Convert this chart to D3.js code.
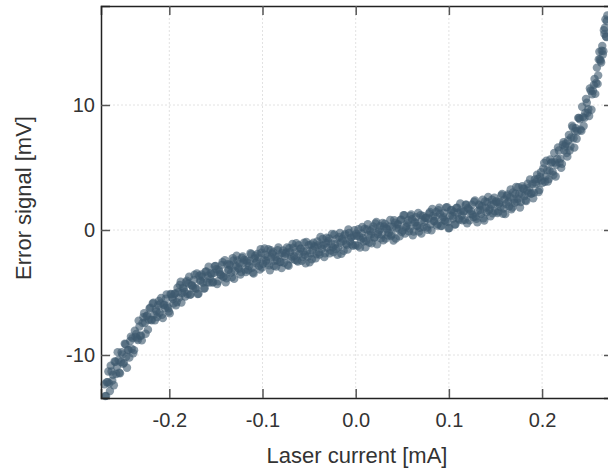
<!DOCTYPE html>
<html>
<head>
<meta charset="utf-8">
<script src="https://cdn.jsdelivr.net/npm/d3@7"></script>
<style>
  html, body { margin: 0; padding: 0; background: #fff; }
  svg { display: block; font-family: "Liberation Sans", Arial, sans-serif; }
</style>
</head>
<body>
<svg id="chart" width="608" height="472"></svg>
<script>
// Two acquisitions of the error signal (mV) against laser current (mA)
const currentA = [
  -0.2695,-0.2678,-0.2662,-0.2645,-0.2629,-0.2612,
  -0.2595,-0.2578,-0.2562,-0.2545,-0.2529,-0.2512,
  -0.2495,-0.2478,-0.2462,-0.2445,-0.2429,-0.2412,
  -0.2395,-0.2378,-0.2362,-0.2345,-0.2329,-0.2312,
  -0.2295,-0.2278,-0.2262,-0.2245,-0.2229,-0.2212,
  -0.2195,-0.2178,-0.2162,-0.2145,-0.2129,-0.2112,
  -0.2095,-0.2078,-0.2062,-0.2045,-0.2029,-0.2012,
  -0.1995,-0.1978,-0.1962,-0.1945,-0.1929,-0.1912,
  -0.1895,-0.1878,-0.1862,-0.1845,-0.1829,-0.1812,
  -0.1795,-0.1778,-0.1762,-0.1745,-0.1729,-0.1712,
  -0.1695,-0.1678,-0.1662,-0.1645,-0.1629,-0.1612,
  -0.1595,-0.1578,-0.1562,-0.1545,-0.1529,-0.1512,
  -0.1495,-0.1478,-0.1462,-0.1445,-0.1429,-0.1412,
  -0.1395,-0.1378,-0.1362,-0.1345,-0.1329,-0.1312,
  -0.1295,-0.1278,-0.1262,-0.1245,-0.1229,-0.1212,
  -0.1195,-0.1178,-0.1162,-0.1145,-0.1129,-0.1112,
  -0.1095,-0.1078,-0.1062,-0.1045,-0.1029,-0.1012,
  -0.0995,-0.0978,-0.0962,-0.0945,-0.0929,-0.0912,
  -0.0895,-0.0878,-0.0862,-0.0845,-0.0829,-0.0812,
  -0.0795,-0.0778,-0.0762,-0.0745,-0.0729,-0.0712,
  -0.0695,-0.0678,-0.0662,-0.0645,-0.0629,-0.0612,
  -0.0595,-0.0578,-0.0562,-0.0545,-0.0529,-0.0512,
  -0.0495,-0.0478,-0.0462,-0.0445,-0.0429,-0.0412,
  -0.0395,-0.0378,-0.0362,-0.0345,-0.0329,-0.0312,
  -0.0295,-0.0278,-0.0262,-0.0245,-0.0229,-0.0212,
  -0.0195,-0.0178,-0.0162,-0.0145,-0.0129,-0.0112,
  -0.0095,-0.0078,-0.0062,-0.0045,-0.0029,-0.0012,
  0.0005,0.0022,0.0038,0.0055,0.0071,0.0088,
  0.0105,0.0122,0.0138,0.0155,0.0171,0.0188,
  0.0205,0.0222,0.0238,0.0255,0.0271,0.0288,
  0.0305,0.0322,0.0338,0.0355,0.0371,0.0388,
  0.0405,0.0422,0.0438,0.0455,0.0471,0.0488,
  0.0505,0.0522,0.0538,0.0555,0.0571,0.0588,
  0.0605,0.0622,0.0638,0.0655,0.0671,0.0688,
  0.0705,0.0722,0.0738,0.0755,0.0771,0.0788,
  0.0805,0.0822,0.0838,0.0855,0.0871,0.0888,
  0.0905,0.0922,0.0938,0.0955,0.0971,0.0988,
  0.1005,0.1022,0.1038,0.1055,0.1071,0.1088,
  0.1105,0.1122,0.1138,0.1155,0.1171,0.1188,
  0.1205,0.1222,0.1238,0.1255,0.1271,0.1288,
  0.1305,0.1322,0.1338,0.1355,0.1371,0.1388,
  0.1405,0.1422,0.1438,0.1455,0.1471,0.1488,
  0.1505,0.1522,0.1538,0.1555,0.1571,0.1588,
  0.1605,0.1622,0.1638,0.1655,0.1671,0.1688,
  0.1705,0.1722,0.1738,0.1755,0.1771,0.1788,
  0.1805,0.1822,0.1838,0.1855,0.1871,0.1888,
  0.1905,0.1922,0.1938,0.1955,0.1971,0.1988,
  0.2005,0.2022,0.2038,0.2055,0.2071,0.2088,
  0.2105,0.2122,0.2138,0.2155,0.2171,0.2188,
  0.2205,0.2222,0.2238,0.2255,0.2271,0.2288,
  0.2305,0.2322,0.2338,0.2355,0.2371,0.2388,
  0.2405,0.2422,0.2438,0.2455,0.2471,0.2488,
  0.2505,0.2522,0.2538,0.2555,0.2571,0.2588,
  0.2602,0.2615,0.2628,0.2640,0.2652,0.2663,0.2674,0.2685,0.2695
];

const signalA = [
  -12.34,-13.27,-12.17,-12.27,-10.85,-12.05,
  -12.42,-10.54,-10.94,-10.40,-11.47,-9.78,
  -10.71,-9.10,-10.14,-9.59,-10.21,-8.53,
  -8.65,-9.61,-8.55,-8.67,-7.25,-8.45,
  -8.83,-6.98,-7.42,-6.90,-7.97,-6.27,
  -7.17,-5.87,-6.77,-6.37,-6.97,-5.67,
  -5.88,-6.79,-6.01,-6.23,-5.15,-6.26,
  -6.67,-5.15,-5.53,-5.12,-6.02,-4.62,
  -5.43,-4.14,-5.06,-4.68,-5.32,-4.05,
  -4.27,-5.19,-4.41,-4.63,-3.57,-4.70,
  -5.13,-3.66,-4.10,-3.73,-4.68,-3.34,
  -4.19,-2.93,-3.89,-3.53,-4.17,-2.90,
  -3.14,-4.10,-3.36,-3.61,-2.57,-3.73,
  -4.19,-2.73,-3.19,-2.84,-3.79,-2.44,
  -3.29,-2.06,-3.02,-2.69,-3.36,-2.12,
  -2.39,-3.36,-2.62,-2.89,-1.86,-3.02,
  -3.49,-2.06,-2.52,-2.19,-3.16,-1.82,
  -2.70,-1.48,-2.46,-2.15,-2.83,-1.61,
  -1.89,-2.87,-2.14,-2.42,-1.39,-2.57,
  -3.05,-1.63,-2.11,-1.80,-2.78,-1.46,
  -2.34,-1.12,-2.09,-1.77,-2.44,-1.22,
  -1.49,-2.46,-1.72,-1.99,-0.96,-2.12,
  -2.59,-1.16,-1.62,-1.29,-2.26,-0.92,
  -1.79,-0.56,-1.52,-1.19,-1.86,-0.62,
  -0.89,-1.86,-1.12,-1.39,-0.36,-1.52,
  -1.99,-0.56,-1.02,-0.69,-1.66,-0.32,
  -1.19,0.04,-0.92,-0.59,-1.26,-0.02,
  -0.29,-1.26,-0.52,-0.79,0.24,-0.92,
  -1.39,0.04,-0.42,-0.09,-1.06,0.28,
  -0.59,0.64,-0.33,0.00,-0.67,0.56,
  0.29,-0.68,0.04,-0.23,0.80,-0.37,
  -0.84,0.59,0.13,0.46,-0.51,0.83,
  -0.04,1.19,0.23,0.56,-0.11,1.13,
  0.86,-0.12,0.61,0.33,1.36,0.18,
  -0.29,1.13,0.66,0.98,0.01,1.33,
  0.46,1.68,0.71,1.03,0.36,1.58,
  1.31,0.33,1.06,0.78,1.81,0.63,
  0.16,1.58,1.11,1.43,0.46,1.78,
  0.91,2.13,1.16,1.48,0.81,2.03,
  1.76,0.78,1.51,1.23,2.26,1.08,
  0.61,2.04,1.58,1.91,0.94,2.28,
  1.41,2.64,1.68,2.01,1.34,2.58,
  2.31,1.36,2.10,1.84,2.88,1.72,
  1.27,2.72,2.26,2.62,1.66,3.01,
  2.17,3.44,2.50,2.87,2.23,3.50,
  3.28,2.37,3.16,2.95,4.04,2.93,
  2.54,4.05,3.67,4.09,3.20,4.62,
  3.78,5.36,4.28,4.78,4.07,5.64,
  5.43,4.40,5.40,5.22,6.61,5.38,
  4.97,6.82,6.38,6.91,5.87,7.60,
  6.70,8.34,7.34,7.91,7.30,8.97,
  8.86,7.93,9.03,8.97,10.48,9.38,
  9.12,11.14,10.86,11.61,10.89,12.99,
  12.37,14.26,13.54,14.34,14.04,15.99,16.18,15.48,16.72
];

const currentB = [
  -0.2687,-0.2670,-0.2654,-0.2637,-0.2620,-0.2604,
  -0.2587,-0.2570,-0.2554,-0.2537,-0.2520,-0.2504,
  -0.2487,-0.2470,-0.2454,-0.2437,-0.2420,-0.2404,
  -0.2387,-0.2370,-0.2354,-0.2337,-0.2320,-0.2304,
  -0.2287,-0.2270,-0.2254,-0.2237,-0.2220,-0.2204,
  -0.2187,-0.2170,-0.2154,-0.2137,-0.2120,-0.2104,
  -0.2087,-0.2070,-0.2054,-0.2037,-0.2020,-0.2004,
  -0.1987,-0.1970,-0.1954,-0.1937,-0.1920,-0.1904,
  -0.1887,-0.1870,-0.1854,-0.1837,-0.1820,-0.1804,
  -0.1787,-0.1770,-0.1754,-0.1737,-0.1720,-0.1704,
  -0.1687,-0.1670,-0.1654,-0.1637,-0.1620,-0.1604,
  -0.1587,-0.1570,-0.1554,-0.1537,-0.1520,-0.1504,
  -0.1487,-0.1470,-0.1454,-0.1437,-0.1420,-0.1404,
  -0.1387,-0.1370,-0.1354,-0.1337,-0.1320,-0.1304,
  -0.1287,-0.1270,-0.1254,-0.1237,-0.1220,-0.1204,
  -0.1187,-0.1170,-0.1154,-0.1137,-0.1120,-0.1104,
  -0.1087,-0.1070,-0.1054,-0.1037,-0.1020,-0.1004,
  -0.0987,-0.0970,-0.0954,-0.0937,-0.0920,-0.0904,
  -0.0887,-0.0870,-0.0854,-0.0837,-0.0820,-0.0804,
  -0.0787,-0.0770,-0.0754,-0.0737,-0.0720,-0.0704,
  -0.0687,-0.0670,-0.0654,-0.0637,-0.0620,-0.0604,
  -0.0587,-0.0570,-0.0554,-0.0537,-0.0520,-0.0504,
  -0.0487,-0.0470,-0.0454,-0.0437,-0.0420,-0.0404,
  -0.0387,-0.0370,-0.0354,-0.0337,-0.0320,-0.0304,
  -0.0287,-0.0270,-0.0254,-0.0237,-0.0220,-0.0204,
  -0.0187,-0.0170,-0.0154,-0.0137,-0.0120,-0.0104,
  -0.0087,-0.0070,-0.0054,-0.0037,-0.0020,-0.0004,
  0.0013,0.0030,0.0046,0.0063,0.0080,0.0096,
  0.0113,0.0130,0.0146,0.0163,0.0180,0.0196,
  0.0213,0.0230,0.0246,0.0263,0.0280,0.0296,
  0.0313,0.0330,0.0346,0.0363,0.0380,0.0396,
  0.0413,0.0430,0.0446,0.0463,0.0480,0.0496,
  0.0513,0.0530,0.0546,0.0563,0.0580,0.0596,
  0.0613,0.0630,0.0646,0.0663,0.0680,0.0696,
  0.0713,0.0730,0.0746,0.0763,0.0780,0.0796,
  0.0813,0.0830,0.0846,0.0863,0.0880,0.0896,
  0.0913,0.0930,0.0946,0.0963,0.0980,0.0996,
  0.1013,0.1030,0.1046,0.1063,0.1080,0.1096,
  0.1113,0.1130,0.1146,0.1163,0.1180,0.1196,
  0.1213,0.1230,0.1246,0.1263,0.1280,0.1296,
  0.1313,0.1330,0.1346,0.1363,0.1380,0.1396,
  0.1413,0.1430,0.1446,0.1463,0.1480,0.1496,
  0.1513,0.1530,0.1546,0.1563,0.1580,0.1596,
  0.1613,0.1630,0.1646,0.1663,0.1680,0.1696,
  0.1713,0.1730,0.1746,0.1763,0.1780,0.1796,
  0.1813,0.1830,0.1846,0.1863,0.1880,0.1896,
  0.1913,0.1930,0.1946,0.1963,0.1980,0.1996,
  0.2013,0.2030,0.2046,0.2063,0.2080,0.2096,
  0.2113,0.2130,0.2146,0.2163,0.2180,0.2196,
  0.2213,0.2230,0.2246,0.2263,0.2280,0.2296,
  0.2313,0.2330,0.2346,0.2363,0.2380,0.2396,
  0.2413,0.2430,0.2446,0.2463,0.2480,0.2496,
  0.2513,0.2530,0.2546,0.2563,0.2580,0.2596,
  0.2608,0.2621,0.2634,0.2646,0.2658,0.2669,0.2680,0.2690,0.2700
];

const signalB = [
  -13.29,-12.18,-11.32,-12.88,-11.32,-11.58,
  -10.52,-11.52,-9.77,-11.42,-10.56,-9.95,
  -10.63,-9.14,-11.02,-9.60,-8.88,-9.50,
  -9.86,-8.06,-8.32,-8.80,-7.72,-8.46,
  -7.43,-6.66,-8.30,-6.84,-7.18,-6.21,
  -7.22,-5.82,-7.22,-6.52,-6.02,-6.62,
  -5.44,-7.05,-5.97,-5.49,-6.10,-6.52,
  -5.11,-5.39,-5.88,-5.07,-5.77,-4.97,
  -4.39,-5.80,-4.62,-4.95,-4.18,-5.12,
  -3.74,-5.15,-4.47,-4.00,-4.63,-3.47,
  -5.10,-4.03,-3.56,-4.21,-4.66,-3.31,
  -3.66,-4.21,-3.46,-4.20,-3.43,-2.87,
  -4.32,-3.18,-3.54,-2.79,-3.75,-2.41,
  -3.86,-3.21,-2.76,-3.41,-2.26,-3.91,
  -2.87,-2.44,-3.11,-3.57,-2.24,-2.61,
  -3.17,-2.44,-3.21,-2.47,-1.94,-3.41,
  -2.27,-2.64,-1.91,-2.87,-1.54,-3.01,
  -2.39,-1.97,-2.65,-1.54,-3.22,-2.20,
  -1.78,-2.46,-2.93,-1.61,-1.98,-2.56,
  -1.84,-2.62,-1.90,-1.39,-2.87,-1.75,
  -2.13,-1.41,-2.38,-1.06,-2.53,-1.91,
  -1.47,-2.14,-1.01,-2.67,-1.64,-1.21,
  -1.87,-2.34,-1.01,-1.37,-1.94,-1.21,
  -1.97,-1.24,-0.71,-2.17,-1.04,-1.41,
  -0.67,-1.64,-0.31,-1.77,-1.14,-0.71,
  -1.37,-0.24,-1.91,-0.87,-0.44,-1.11,
  -1.57,-0.24,-0.61,-1.17,-0.44,-1.21,
  -0.47,0.06,-1.41,-0.27,-0.64,0.09,
  -0.87,0.46,-1.01,-0.37,0.06,-0.61,
  0.52,-1.15,-0.12,0.31,-0.36,-0.83,
  0.50,0.13,-0.44,0.29,-0.48,0.24,
  0.78,-0.69,0.44,0.08,0.81,-0.16,
  1.18,-0.29,0.34,0.78,0.11,1.24,
  -0.43,0.60,1.02,0.34,-0.13,1.19,
  0.82,0.25,0.97,0.19,0.92,1.44,
  -0.03,1.10,0.72,1.44,0.47,1.79,
  0.32,0.95,1.37,0.69,1.82,0.14,
  1.17,1.60,0.92,0.44,1.77,1.39,
  0.82,1.55,0.77,1.49,2.02,0.54,
  1.67,1.30,2.02,1.04,2.37,0.89,
  1.53,1.96,1.29,2.43,0.76,1.79,
  2.23,1.56,1.09,2.43,2.06,1.49,
  2.23,1.48,2.22,2.76,1.30,2.44,
  2.09,2.84,1.89,3.24,1.79,2.44,
  2.90,2.27,3.43,1.80,2.87,3.33,
  2.72,2.32,3.70,3.40,2.89,3.68,
  2.99,3.81,4.42,3.04,4.26,3.97,
  4.92,3.86,5.55,3.88,4.74,5.35,
  4.67,6.16,4.28,5.68,6.36,5.71,
  5.29,7.02,6.70,6.15,7.16,6.36,
  7.40,8.20,6.59,8.14,7.90,8.96,
  8.03,9.86,8.32,9.36,10.18,9.66,
  11.32,9.62,11.14,12.09,11.76,11.69,
  13.65,13.64,13.40,14.73,14.31,15.69,16.84,15.44,17.16
];

const xTicks = [-0.2, -0.1, 0.0, 0.1, 0.2];
const yTicks = [-10, 0, 10];

const svg = d3.select("#chart");
const plot = { left: 101, top: 6, right: 613, bottom: 398 };

const x = d3.scaleLinear().domain([-0.2733, 0.2761]).range([plot.left, plot.right]);
const y = d3.scaleLinear().domain([-13.44, 17.92]).range([plot.bottom, plot.top]);

// dotted grid
const grid = svg.append("g").attr("stroke", "#e2e2e2").attr("stroke-width", 1)
  .attr("stroke-dasharray", "2,2");
grid.selectAll("line.vx").data(xTicks).join("line")
  .attr("x1", d => x(d)).attr("x2", d => x(d))
  .attr("y1", plot.top).attr("y2", plot.bottom);
grid.selectAll("line.hy").data(yTicks).join("line")
  .attr("x1", plot.left).attr("x2", plot.right)
  .attr("y1", d => y(d)).attr("y2", d => y(d));

// data points from both acquisitions
const pts = currentA.map((c, i) => [c, signalA[i]])
  .concat(currentB.map((c, i) => [c, signalB[i]]));
svg.append("g")
  .selectAll("circle").data(pts).join("circle")
  .attr("cx", d => x(d[0]))
  .attr("cy", d => y(d[1]))
  .attr("r", 4.2)
  .attr("fill", "#3d586e")
  .attr("fill-opacity", 0.62);

// axes with inward ticks
const fmtX = d3.format(".1f");
const axB = svg.append("g").attr("transform", `translate(0,${plot.bottom})`)
  .call(d3.axisBottom(x).tickValues(xTicks).tickFormat(fmtX).tickSize(-9).tickPadding(15));
const axT = svg.append("g").attr("transform", `translate(0,${plot.top})`)
  .call(d3.axisTop(x).tickValues(xTicks).tickFormat("").tickSize(-9));
const axL = svg.append("g").attr("transform", `translate(${plot.left},0)`)
  .call(d3.axisLeft(y).tickValues(yTicks).tickFormat(d3.format("d")).tickSize(-9).tickPadding(6));
const axR = svg.append("g").attr("transform", `translate(${plot.right},0)`)
  .call(d3.axisRight(y).tickValues(yTicks).tickFormat("").tickSize(-9));

[axB, axT, axL, axR].forEach(g => {
  g.select(".domain").attr("stroke", "#222").attr("stroke-width", 1.5);
  g.selectAll(".tick line").attr("stroke", "#555").attr("stroke-width", 1.5);
  g.selectAll(".tick text").attr("fill", "#333").attr("font-size", 20)
    .attr("font-family", "'Liberation Sans', Arial, sans-serif");
});
axB.selectAll(".tick text").text(d => fmtX(d).replace("\u2212", "-"));
axL.selectAll(".tick text").text(d => String(d).replace("\u2212", "-"));

// axis titles
svg.append("text")
  .attr("x", 357).attr("y", 463)
  .attr("text-anchor", "middle")
  .attr("font-size", 22).attr("fill", "#333")
  .text("Laser current [mA]");

svg.append("text")
  .attr("transform", "translate(31,198) rotate(-90)")
  .attr("text-anchor", "middle")
  .attr("font-size", 22).attr("fill", "#333")
  .text("Error signal [mV]");
</script>
</body>
</html>
